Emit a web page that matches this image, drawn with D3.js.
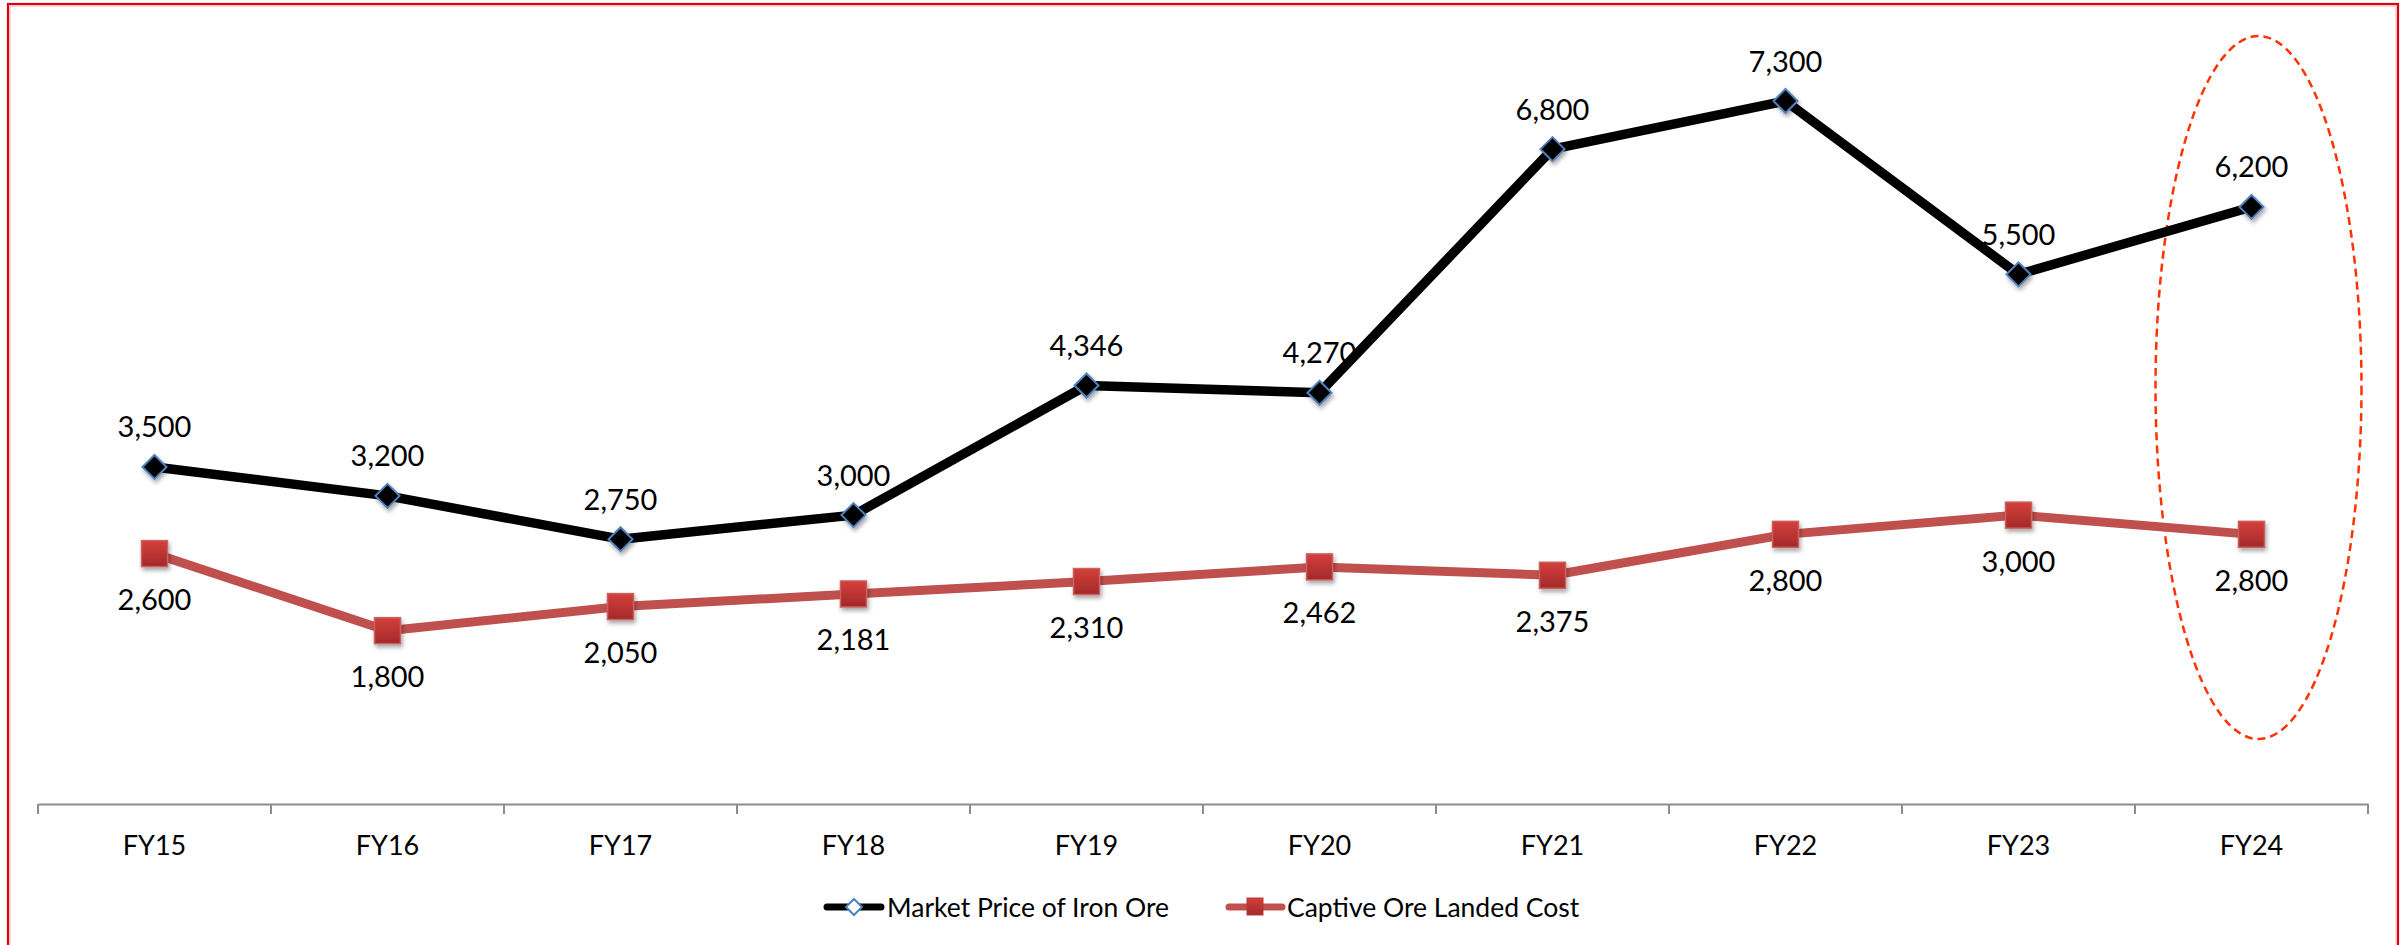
<!DOCTYPE html>
<html>
<head>
<meta charset="utf-8">
<script src="https://cdn.jsdelivr.net/npm/d3@7"></script>
<style>
  html, body { margin: 0; padding: 0; background: #fff; }
  svg { display: block; font-family: Lato, "Open Sans", sans-serif; }
</style>
</head>
<body>
<svg id="chart" width="2407" height="945"></svg>
<script>
const categories = ["FY15","FY16","FY17","FY18","FY19","FY20","FY21","FY22","FY23","FY24"];
const marketPrice = [3500, 3200, 2750, 3000, 4346, 4270, 6800, 7300, 5500, 6200];
const captiveCost = [2600, 1800, 2050, 2181, 2310, 2462, 2375, 2800, 3000, 2800];
const seriesNames = ["Market Price of Iron Ore", "Captive Ore Landed Cost"];
const highlightCategory = "FY24";
const highlightRange = [675, 7975];
const yDomain = [0, 8000];

const svg = d3.select("#chart");
const fmt = d3.format(",");

const defs = svg.append("defs");
const grad = defs.append("linearGradient").attr("id", "sqGrad")
  .attr("x1", 0).attr("y1", 0).attr("x2", 0).attr("y2", 1);
grad.append("stop").attr("offset", "0%").attr("stop-color", "#d53f3b");
grad.append("stop").attr("offset", "100%").attr("stop-color", "#a3292a");
const sh = defs.append("filter").attr("id", "shadow")
  .attr("x", "-50%").attr("y", "-50%").attr("width", "200%").attr("height", "200%");
sh.append("feDropShadow").attr("dx", 1.5).attr("dy", 3).attr("stdDeviation", 2)
  .attr("flood-color", "#000").attr("flood-opacity", 0.35);

// frame
svg.append("rect").attr("x", 8).attr("y", 4).attr("width", 2390).attr("height", 960)
  .attr("fill", "none").attr("stroke", "#d9000f").attr("stroke-width", 2.2);
svg.append("rect").attr("x", 10).attr("y", 6).attr("width", 2386).attr("height", 960)
  .attr("fill", "none").attr("stroke", "#f3b0b0").attr("stroke-width", 1);

const x = d3.scaleBand().domain(categories).range([38, 2368]).padding(0);
const y = d3.scaleLinear().domain(yDomain).range([804, 33.6]);
const cx = c => x(c) + x.bandwidth() / 2;

// axis
const axis = d3.axisBottom(x).tickSize(0).tickPadding(0);
const gAxis = svg.append("g").attr("transform", `translate(0,${y(0)})`).call(axis);
gAxis.select(".domain").attr("stroke", "#8c8c8c").attr("stroke-width", 2);
gAxis.selectAll(".tick text").attr("font-size", 27).attr("fill", "#000")
  .attr("font-family", "Lato, sans-serif").attr("dy", 0).attr("y", 51);
const edges = categories.map(c => x(c)).concat([x.range()[1]]);
svg.append("g").selectAll("line").data(edges).join("line")
  .attr("x1", d => d).attr("x2", d => d)
  .attr("y1", y(0)).attr("y2", y(0) + 10)
  .attr("stroke", "#8c8c8c").attr("stroke-width", 2);

// highlight ellipse
const hlTop = y(highlightRange[1]), hlBot = y(highlightRange[0]);
svg.append("ellipse")
  .attr("cx", cx(highlightCategory) + 7)
  .attr("cy", (hlTop + hlBot) / 2)
  .attr("rx", x.bandwidth() * 0.442)
  .attr("ry", (hlBot - hlTop) / 2)
  .attr("fill", "none").attr("stroke", "#ff3300").attr("stroke-width", 2.5)
  .attr("stroke-dasharray", "8,5");

// labels (drawn under lines)
const lblG = svg.append("g").attr("font-size", 29).attr("fill", "#000").attr("text-anchor", "middle");
lblG.selectAll("text.m").data(categories).join("text").attr("class", "m")
  .attr("x", c => cx(c)).attr("y", (c, i) => y(marketPrice[i]) - 41)
  .attr("dominant-baseline", "central").text((c, i) => fmt(marketPrice[i]));
lblG.selectAll("text.c").data(categories).join("text").attr("class", "c")
  .attr("x", c => cx(c)).attr("y", (c, i) => y(captiveCost[i]) + 45)
  .attr("dominant-baseline", "central").text((c, i) => fmt(captiveCost[i]));

// lines
const line = d3.line().x(d => cx(d.c)).y(d => y(d.v));
const mData = categories.map((c, i) => ({ c, v: marketPrice[i] }));
const cData = categories.map((c, i) => ({ c, v: captiveCost[i] }));
svg.append("path").datum(cData).attr("d", line).attr("fill", "none")
  .attr("stroke", "#c0504d").attr("stroke-width", 9).attr("stroke-linejoin", "round");
svg.append("path").datum(mData).attr("d", line).attr("fill", "none")
  .attr("stroke", "#000").attr("stroke-width", 9.5).attr("stroke-linejoin", "round");

// markers
const dia = r => `M0,${-r}L${r},0L0,${r}L${-r},0Z`;
svg.append("g").selectAll("path").data(mData).join("path")
  .attr("transform", d => `translate(${cx(d.c)},${y(d.v)})`)
  .attr("d", dia(12)).attr("fill", "#000").attr("stroke", "#4f81bd").attr("stroke-width", 2)
  .attr("filter", "url(#shadow)");
svg.append("g").selectAll("rect").data(cData).join("rect")
  .attr("x", d => cx(d.c) - 13).attr("y", d => y(d.v) - 13)
  .attr("width", 26).attr("height", 26)
  .attr("fill", "url(#sqGrad)").attr("stroke", "#c9625f").attr("stroke-width", 1.5)
  .attr("filter", "url(#shadow)");

// legend
const lg = svg.append("g").attr("transform", "translate(0,907)");
lg.append("line").attr("x1", 827).attr("x2", 881).attr("y1", 0).attr("y2", 0)
  .attr("stroke", "#000").attr("stroke-width", 7).attr("stroke-linecap", "round");
lg.append("path").attr("transform", "translate(854,0)").attr("d", dia(8))
  .attr("fill", "#fff").attr("stroke", "#4f81bd").attr("stroke-width", 2);
lg.append("text").attr("x", 887).attr("y", 0).attr("dominant-baseline", "central")
  .attr("font-size", 26.5).text(seriesNames[0]);
lg.append("line").attr("x1", 1229).attr("x2", 1282).attr("y1", 0).attr("y2", 0)
  .attr("stroke", "#c0504d").attr("stroke-width", 7).attr("stroke-linecap", "round");
lg.append("rect").attr("x", 1247).attr("y", -9).attr("width", 16).attr("height", 17)
  .attr("fill", "url(#sqGrad)").attr("stroke", "#b33a38").attr("stroke-width", 1);
lg.append("text").attr("x", 1287).attr("y", 0).attr("dominant-baseline", "central")
  .attr("font-size", 26.5).text(seriesNames[1]);
</script>
</body>
</html>
